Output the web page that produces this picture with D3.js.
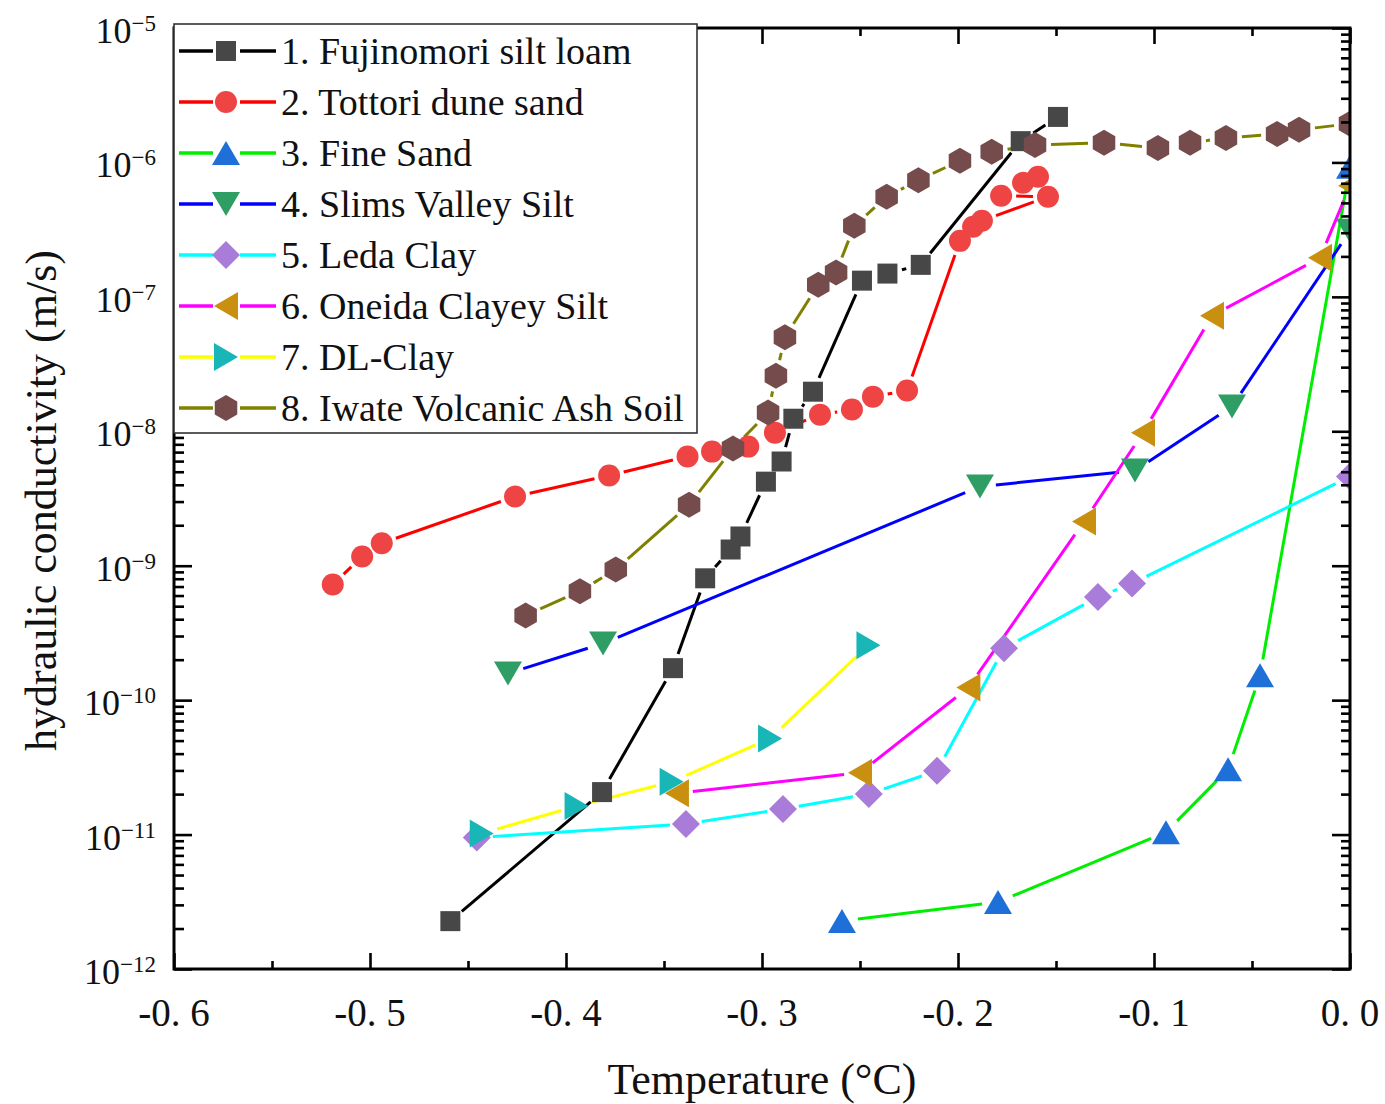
<!DOCTYPE html>
<html>
<head>
<meta charset="utf-8">
<script src="https://cdn.jsdelivr.net/npm/d3@7"></script>
<style>
  html, body { margin: 0; padding: 0; background: #fff; }
  svg { display: block; }
  text { font-family: "Liberation Serif", "Times New Roman", serif; fill: #111; }
</style>
</head>
<body>
<svg id="chart" width="1385" height="1104"></svg>
<script>
// ---------------- data ----------------
const soilNames = [
  "1. Fujinomori silt loam",
  "2. Tottori dune sand",
  "3. Fine Sand",
  "4. Slims Valley Silt",
  "5. Leda Clay",
  "6. Oneida Clayey Silt",
  "7. DL-Clay",
  "8. Iwate Volcanic Ash Soil"
];

const t1 = [-0.459,-0.3816,-0.3454,-0.329,-0.316,-0.311,-0.298,-0.290,-0.284,-0.274,-0.249,-0.236,-0.219,-0.168,-0.149];
const k1 = [2.27e-12,2.07e-11,1.73e-10,8.06e-10,1.32e-9,1.65e-9,4.22e-9,5.96e-9,1.24e-8,1.97e-8,1.32e-7,1.49e-7,1.73e-7,1.44e-6,2.18e-6];

const t2 = [-0.519,-0.504,-0.494,-0.426,-0.378,-0.338,-0.3255,-0.307,-0.2934,-0.2704,-0.2541,-0.2434,-0.226,-0.199,-0.1923,-0.1878,-0.1541,-0.178,-0.1668,-0.1592];
const k2 = [7.26e-10,1.17e-9,1.47e-9,3.27e-9,4.69e-9,6.49e-9,7.06e-9,7.69e-9,9.77e-9,1.33e-8,1.45e-8,1.81e-8,2.01e-8,2.61e-7,3.32e-7,3.68e-7,5.55e-7,5.65e-7,7.05e-7,7.82e-7];

const t3 = [-0.2592,-0.1796,-0.0939,-0.0622,-0.0459,0.0];
const k3 = [2.28e-12,3.15e-12,1.04e-11,3.06e-11,1.53e-10,9.3e-7];

const t4 = [-0.4296,-0.3811,-0.1888,-0.1097,-0.0602,0.0];
const k4 = [1.58e-10,2.64e-10,3.88e-9,5.1e-9,1.53e-8,3.1e-7];

const t5 = [-0.4455,-0.3388,-0.2893,-0.2455,-0.2107,-0.1765,-0.1286,-0.1112,0.0];
const k5 = [9.5e-12,1.2e-11,1.55e-11,2.0e-11,2.98e-11,2.43e-10,5.85e-10,7.38e-10,4.6e-9];

const t6 = [-0.3434,-0.25,-0.1947,-0.1357,-0.1056,-0.0704,-0.0153,0.0];
const k6 = [2.03e-11,2.88e-11,1.24e-10,2.13e-9,9.77e-9,7.24e-8,1.95e-7,6.7e-7];

const t7 = [-0.443,-0.3946,-0.3461,-0.2959,-0.2457];
const k7 = [1.02e-11,1.63e-11,2.47e-11,5.18e-11,2.56e-10];

const t8 = [-0.4206,-0.3929,-0.3746,-0.3372,-0.3148,-0.2969,-0.2929,-0.2883,-0.2713,-0.2622,-0.2529,-0.2364,-0.2202,-0.199,-0.1828,-0.1607,-0.1255,-0.098,-0.0816,-0.0633,-0.0372,-0.026,0.0];
const k8 = [4.27e-10,6.47e-10,9.38e-10,2.84e-9,7.45e-9,1.38e-8,2.59e-8,5.0e-8,1.23e-7,1.52e-7,3.38e-7,5.55e-7,7.38e-7,1.03e-6,1.2e-6,1.35e-6,1.4e-6,1.28e-6,1.4e-6,1.52e-6,1.63e-6,1.75e-6,1.94e-6];

const xTickValues = [-0.6,-0.5,-0.4,-0.3,-0.2,-0.1,0.0];
const xTickLabels = ["-0. 6","-0. 5","-0. 4","-0. 3","-0. 2","-0. 1","0. 0"];
const xMinorValues = [-0.55,-0.45,-0.35,-0.25,-0.15,-0.05];
const yDecadeExps = [-12,-11,-10,-9,-8,-7,-6,-5];
const yTickLabels = ["\u221212","\u221211","\u221210","\u22129","\u22128","\u22127","\u22126","\u22125"];

const xTitle = "Temperature (\u00b0C)";
const yTitle = "hydraulic conductivity (m/s)";

// ---------------- styling ----------------
const lineColors   = ["#000000","#ff0000","#00ee00","#0000ff","#00ffff","#ff00ff","#ffff00","#808000"];
const markerColors = ["#474747","#ee4444","#1f6fd9","#2e9e64","#a87cd8","#c98f0e","#19b6b8","#754b4b"];
const markerTypes  = ["square","circle","triUp","triDown","diamond","triLeft","triRight","hexagon"];

const series = [[t1,k1],[t2,k2],[t3,k3],[t4,k4],[t5,k5],[t6,k6],[t7,k7],[t8,k8]].map((p,i)=>({
  name: soilNames[i], t: p[0], k: p[1],
  line: lineColors[i], fill: markerColors[i], type: markerTypes[i]
}));

function markerPath(type){
  switch(type){
    case "square": return "M-10,-10H10V10H-10Z";
    case "circle": return "M11,0A11,11 0 1,1 -11,0A11,11 0 1,1 11,0Z";
    case "triUp": return "M0,-12L14,12L-14,12Z";
    case "triDown": return "M0,12L14,-12L-14,-12Z";
    case "triLeft": return "M-12,0L12,-14L12,14Z";
    case "triRight": return "M12,0L-12,-14L-12,14Z";
    case "diamond": return "M0,-14L14,0L0,14L-14,0Z";
    case "hexagon": {
      const r = 13, pts = [];
      for (let a = -90; a < 270; a += 60) {
        const rad = a*Math.PI/180;
        pts.push([r*Math.cos(rad), r*Math.sin(rad)]);
      }
      return "M" + pts.map(p=>p[0].toFixed(2)+","+p[1].toFixed(2)).join("L") + "Z";
    }
  }
}
const markerGap = {square:15,circle:15,triUp:16,triDown:16,diamond:16,triLeft:16,triRight:16,hexagon:16};

// ---------------- layout ----------------
const L = 174, R = 1350, T = 28, B = 969;
const svg = d3.select("#chart");
const x = d3.scaleLinear().domain([-0.6, 0]).range([L, R]);
const y = d3.scaleLog().domain([1e-12, 1e-5]).range([B, T]);

svg.append("defs").append("clipPath").attr("id","plotclip")
  .append("rect").attr("x",L).attr("y",T).attr("width",R-L).attr("height",B-T);

const plot = svg.append("g").attr("clip-path","url(#plotclip)");

// lines with gap to symbol
series.forEach(s=>{
  const pts = s.t.map((t,i)=>[x(t), y(s.k[i])]);
  const g = markerGap[s.type];
  const segs = [];
  for (let i=0;i<pts.length-1;i++){
    const [x0,y0]=pts[i],[x1,y1]=pts[i+1];
    const dx=x1-x0, dy=y1-y0, len=Math.hypot(dx,dy);
    if (len <= 2*g + 1) continue;
    const ux=dx/len, uy=dy/len;
    segs.push([[x0+ux*g,y0+uy*g],[x1-ux*g,y1-uy*g]]);
  }
  plot.append("g").selectAll("line").data(segs).join("line")
    .attr("x1",d=>d[0][0]).attr("y1",d=>d[0][1])
    .attr("x2",d=>d[1][0]).attr("y2",d=>d[1][1])
    .attr("stroke",s.line).attr("stroke-width",3).attr("stroke-linecap","butt");
});
// markers
series.forEach(s=>{
  plot.append("g").selectAll("path").data(s.t.map((t,i)=>[t,s.k[i]])).join("path")
    .attr("d",markerPath(s.type))
    .attr("transform",d=>`translate(${x(d[0])},${y(d[1])})`)
    .attr("fill",s.fill);
});

// ---------------- axes ----------------
const axisStyle = g => {
  g.select(".domain").remove();
  g.selectAll(".tick line").attr("stroke","#000").attr("stroke-width",2.6);
  g.selectAll(".tick text").remove();
};
const yMinorValues = [];
yDecadeExps.slice(0,-1).forEach(e=>{ for(let m=2;m<=9;m++) yMinorValues.push(m*Math.pow(10,e)); });
const yMajorValues = yDecadeExps.map(e=>Math.pow(10,e));

svg.append("g").attr("transform",`translate(0,${B})`).call(d3.axisBottom(x).tickValues(xTickValues).tickSize(-16)).call(axisStyle);
svg.append("g").attr("transform",`translate(0,${B})`).call(d3.axisBottom(x).tickValues(xMinorValues).tickSize(-8)).call(axisStyle);
svg.append("g").attr("transform",`translate(0,${T})`).call(d3.axisTop(x).tickValues(xTickValues).tickSize(-16)).call(axisStyle);
svg.append("g").attr("transform",`translate(0,${T})`).call(d3.axisTop(x).tickValues(xMinorValues).tickSize(-8)).call(axisStyle);
svg.append("g").attr("transform",`translate(${L},0)`).call(d3.axisLeft(y).tickValues(yMajorValues).tickSize(-18)).call(axisStyle);
svg.append("g").attr("transform",`translate(${L},0)`).call(d3.axisLeft(y).tickValues(yMinorValues).tickSize(-10)).call(axisStyle);
svg.append("g").attr("transform",`translate(${R},0)`).call(d3.axisRight(y).tickValues(yMajorValues).tickSize(-18)).call(axisStyle);
svg.append("g").attr("transform",`translate(${R},0)`).call(d3.axisRight(y).tickValues(yMinorValues).tickSize(-9)).call(axisStyle);

// frame
svg.append("rect").attr("x",L).attr("y",T).attr("width",R-L).attr("height",B-T)
  .attr("fill","none").attr("stroke","#000").attr("stroke-width",3);

// tick labels
svg.append("g").selectAll("text").data(xTickValues).join("text")
  .attr("x",d=>x(d)).attr("y",B+57).attr("text-anchor","middle")
  .attr("font-size",39).text((d,i)=>xTickLabels[i]);

const yl = svg.append("g").selectAll("text").data(yDecadeExps).join("text")
  .attr("x",156).attr("y",d=>y(Math.pow(10,d))+15).attr("text-anchor","end");
yl.append("tspan").attr("font-size",36).text("10");
yl.append("tspan").attr("font-size",23).attr("dy",-12).text((d,i)=>yTickLabels[i]);

// titles
svg.append("text").attr("x",(L+R)/2).attr("y",1094).attr("text-anchor","middle")
  .attr("font-size",44).text(xTitle);
svg.append("text").attr("transform",`translate(56,${(T+B)/2+2}) rotate(-90)`)
  .attr("text-anchor","middle").attr("font-size",44).text(yTitle);

// ---------------- legend ----------------
const legend = svg.append("g");
legend.append("rect").attr("x",L).attr("y",24).attr("width",697-L).attr("height",433-24)
  .attr("fill","#fff").attr("stroke","#333").attr("stroke-width",1.6);
const rowY0 = 51, rowDy = 51;
series.forEach((s,i)=>{
  const cy = rowY0 + i*rowDy;
  const g = legend.append("g").attr("transform",`translate(0,${cy})`);
  g.append("line").attr("x1",179).attr("x2",213).attr("y1",0).attr("y2",0).attr("stroke",s.line).attr("stroke-width",3.5);
  g.append("line").attr("x1",240).attr("x2",276).attr("y1",0).attr("y2",0).attr("stroke",s.line).attr("stroke-width",3.5);
  g.append("path").attr("d",markerPath(s.type)).attr("transform","translate(226,0)").attr("fill",s.fill);
  g.append("text").attr("x",281).attr("y",13).attr("font-size",38).text(s.name);
});
</script>
</body>
</html>
